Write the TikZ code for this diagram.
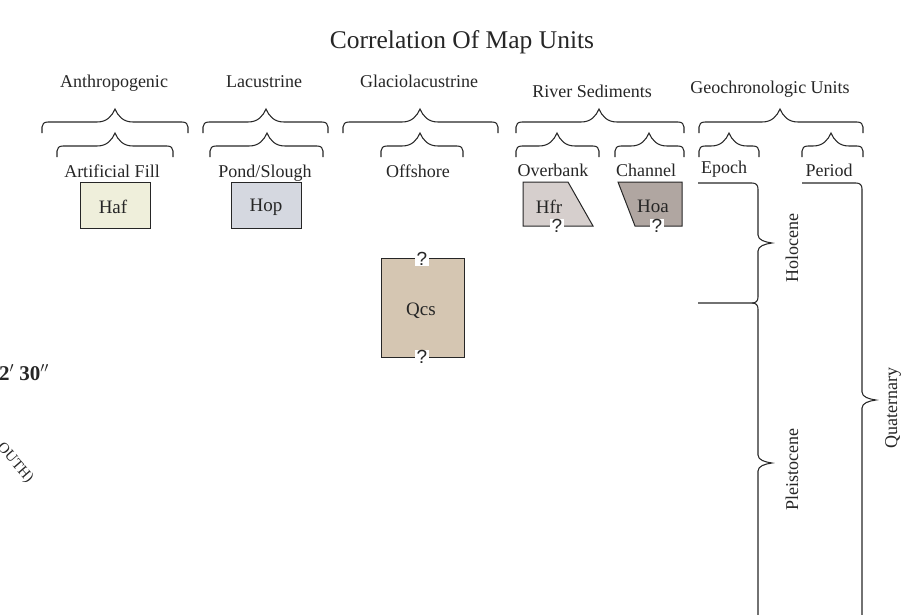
\documentclass[tikz,border=0pt]{standalone}
\usepackage{fontspec}
\setmainfont{Liberation Serif}
\newfontfamily\qmfont{Liberation Sans}
\definecolor{inkc}{HTML}{262626}
\definecolor{hafc}{HTML}{EFEFDB}
\definecolor{hopc}{HTML}{D5D8E0}
\definecolor{hfrc}{HTML}{D6CFCD}
\definecolor{hoac}{HTML}{B0A6A1}
\definecolor{qcsc}{HTML}{D5C6B2}
% horizontal brace: left x, right x, peak x, peak y
\newcommand\mybrace[4]{%
  \draw[bracestyle] (#1,{#4+24}) -- (#1,{#4+18})
    .. controls (#1,{#4+15}) and ({#1+2},{#4+13}) .. ({#1+6},{#4+13})
    -- ({#3-18},{#4+13})
    .. controls ({#3-8},{#4+13}) and ({#3-3},{#4+7}) .. (#3,#4)
    .. controls ({#3+3},{#4+7}) and ({#3+8},{#4+13}) .. ({#3+18},{#4+13})
    -- ({#2-6},{#4+13})
    .. controls ({#2-2},{#4+13}) and (#2,{#4+15}) .. (#2,{#4+18})
    -- (#2,{#4+24});}
\begin{document}
\begin{tikzpicture}[x=1pt,y=-1pt,
  bracestyle/.style={draw=inkc, line width=1.05pt},
  lbl/.style={font=\fontsize{18}{20}\selectfont, text=inkc, anchor=base, inner sep=0pt},
  unitlbl/.style={font=\fontsize{19}{21}\selectfont, text=inkc, anchor=base, inner sep=0pt},
  unitbox/.style={draw=inkc, line width=1pt, inner sep=0pt},
  qmark/.style={font=\qmfont\fontsize{19}{21}\selectfont, text=inkc, fill=white, inner xsep=1.5pt, inner ysep=0pt},
  vlbl/.style={font=\fontsize{18}{20}\selectfont, text=inkc, rotate=90, inner sep=0pt}]
\useasboundingbox (0,0) rectangle (906,614);
\clip (0,0) rectangle (906,614);

% title
\node[lbl, font=\fontsize{25.5}{30}\selectfont] (title) at (462,48) {Correlation Of Map Units};

% group labels
\node[lbl] (anth) at (114,87) {Anthropogenic};
\node[lbl] (lacu) at (264,87) {Lacustrine};
\node[lbl] (glac) at (419,87) {Glaciolacustrine};
\node[lbl] (rivr) at (592,97) {River Sediments};
\node[lbl] (geoc) at (770,93) {Geochronologic Units};

% large braces
\mybrace{42}{188}{115}{109}
\mybrace{203}{328}{266}{109}
\mybrace{343}{498}{420}{109}
\mybrace{516}{684}{599}{109}
\mybrace{699}{863}{780}{109}

% small braces
\mybrace{57}{173}{115}{133}
\mybrace{210}{323}{267}{133}
\mybrace{381}{463}{420}{133}
\mybrace{516}{599}{557}{133}
\mybrace{615}{684}{649}{133}
\mybrace{699}{759}{729}{133}
\mybrace{802}{863}{831}{133}

% sub labels
\node[lbl] (artf) at (112,177) {Artificial Fill};
\node[lbl] (pond) at (265,177) {Pond/Slough};
\node[lbl] (offs) at (418,177) {Offshore};
\node[lbl] (ovrb) at (553,176) {Overbank};
\node[lbl] (chan) at (646,176) {Channel};
\node[lbl] (epoc) at (724,173) {Epoch};
\node[lbl] (peri) at (829,176) {Period};

% map unit boxes
\node[unitbox, fill=hafc, minimum width=70pt, minimum height=46pt] (haf) at (115,205) {};
\node[unitlbl] at (113,213) {Haf};
\node[unitbox, fill=hopc, minimum width=70pt, minimum height=46pt] (hop) at (266,205) {};
\node[unitlbl] at (266,211) {Hop};

\filldraw[draw=inkc, line width=1pt, fill=hfrc] (523,182) -- (568,182) -- (593,226) -- (523,226) -- cycle;
\node[unitlbl] (hfr) at (549,213) {Hfr};
\node[qmark] (hfrq) at (557,226) {?};

\filldraw[draw=inkc, line width=1pt, fill=hoac] (618,182) -- (682,182) -- (682,226) -- (635,226) -- cycle;
\node[unitlbl] (hoa) at (653,212) {Hoa};
\node[qmark] (hoaq) at (657,226) {?};

\node[unitbox, fill=qcsc, minimum width=83pt, minimum height=99pt] (qcs) at (422.5,307.5) {};
\node[unitlbl] at (421,315) {Qcs};
\node[qmark] (qcst) at (422,259) {?};
\node[qmark] (qcsb) at (422,357) {?};

% epoch braces
\draw[bracestyle] (698,183) -- (752,183)
  .. controls (756,183) and (758,185) .. (758,189) -- (758,235)
  .. controls (758,240) and (765,242) .. (772,243)
  .. controls (765,244) and (758,246) .. (758,251) -- (758,297)
  .. controls (758,301) and (756,303) .. (752,303) -- (698,303);
\draw[bracestyle] (752,303)
  .. controls (756,303) and (758,305) .. (758,309) -- (758,455)
  .. controls (758,460) and (765,462) .. (772,463)
  .. controls (765,464) and (758,466) .. (758,471) -- (758,620);
% period brace
\draw[bracestyle] (802,183) -- (856,183)
  .. controls (860,183) and (862,185) .. (862,189) -- (862,392)
  .. controls (862,397) and (869,399) .. (876,400)
  .. controls (869,401) and (862,403) .. (862,408) -- (862,620);

\node[vlbl] (holo) at (792,248) {Holocene};
\node[vlbl] (plei) at (792,470) {Pleistocene};
\node[vlbl] (quat) at (893,408) {Quaternary};

% map fragments at left edge
\node[anchor=base east, inner sep=0pt, text=inkc, font=\bfseries\fontsize{21}{24}\selectfont] (lon) at (49,380) {2$^{\prime}$ 30$^{\prime\prime}$};
\node[inner sep=0pt, text=inkc, rotate=-49, font=\fontsize{15}{17}\selectfont] (south) at (15,463) {OUTH)};
\end{tikzpicture}
\end{document}
